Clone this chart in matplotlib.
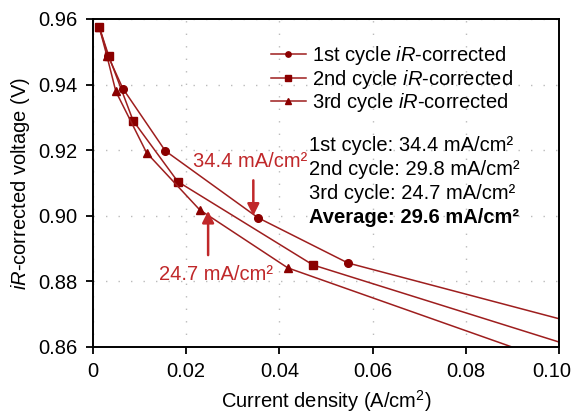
import matplotlib
matplotlib.use("Agg")
import matplotlib.pyplot as plt
import matplotlib.transforms as mtransforms

plt.rcParams['font.family'] = ['Liberation Sans', 'DejaVu Sans']
plt.rcParams['mathtext.fontset'] = 'custom'
plt.rcParams['mathtext.rm'] = 'Liberation Sans'
plt.rcParams['mathtext.it'] = 'Liberation Sans:italic'
plt.rcParams['mathtext.bf'] = 'Liberation Sans:bold'

# data (current density A/cm2, iR-corrected voltage V)
x1 = [0.0013, 0.0032, 0.0064, 0.0155, 0.0354, 0.0547, 0.1200]
y1 = [0.9577, 0.9488, 0.9388, 0.9198, 0.8994, 0.8856, 0.8611]
x2 = [0.0013, 0.0034, 0.0086, 0.0182, 0.0472, 0.1200]
y2 = [0.9577, 0.9486, 0.9290, 0.9104, 0.8850, 0.8526]
x3 = [0.0013, 0.0030, 0.0049, 0.0115, 0.0229, 0.0418, 0.1200]
y3 = [0.9577, 0.9486, 0.9379, 0.9192, 0.9018, 0.8841, 0.8449]
labels = [r'1st cycle $\it{iR}$-corrected', r'2nd cycle $\it{iR}$-corrected',
          r'3rd cycle $\it{iR}$-corrected']
summary = ['1st cycle: 34.4 mA/cm²', '2nd cycle: 29.8 mA/cm²',
           '3rd cycle: 24.7 mA/cm²']
average = 'Average: 29.6 mA/cm²'
xticks = [0, 0.02, 0.04, 0.06, 0.08, 0.10]
xticklabels = ['0', '0.02', '0.04', '0.06', '0.08', '0.10']
yticks = [0.86, 0.88, 0.90, 0.92, 0.94, 0.96]

line_c = '#9E1E1E'
mark_c = '#8B0000'
red = '#C0282A'
fs = 14.5

fig = plt.figure(figsize=(5.76, 4.17), dpi=100)
ax = fig.add_axes([0.1615, 0.168, 0.809, 0.7865])

for xs, ys, m, lab in [(x2, y2, 's', labels[1]), (x3, y3, '^', labels[2]), (x1, y1, 'o', labels[0])]:
    ax.plot(xs, ys, color=line_c, lw=1.1, marker=m, ms=5.5, mfc=mark_c, mec=mark_c, label=lab)

ax.set_xlim(0, 0.10)
ax.set_ylim(0.86, 0.96)
ax.set_xticks(xticks)
ax.set_xticklabels(xticklabels)
ax.set_yticks(yticks)
ax.tick_params(direction='out', length=5, width=1.3, labelsize=fs, pad=6, top=False, right=False)
for s in ax.spines.values():
    s.set_linewidth(1.4)
ax.grid(True, color='#BBBBBB', lw=1.0, linestyle=(0, (1, 8)))
ax.set_axisbelow(True)

# nudge the last x tick label left so it stays inside the figure
lastlab = ax.get_xticklabels()[-1]
lastlab.set_transform(lastlab.get_transform() +
                      mtransforms.ScaledTranslation(-7 / 100, 0, fig.dpi_scale_trans))

ax.set_xlabel('Current density (A/cm$^2$)', fontsize=fs, labelpad=5)
ax.set_ylabel(r'$\it{iR}$-corrected voltage (V)', fontsize=fs, labelpad=5)

handles, labs = ax.get_legend_handles_labels()
order = [2, 0, 1]
leg = ax.legend([handles[i] for i in order], [labs[i] for i in order],
                loc='upper left', bbox_to_anchor=(0.36, 0.955), frameon=False, fontsize=fs,
                handlelength=1.75, handletextpad=0.3, labelspacing=0.04, borderpad=0, markerscale=0.7)

tx = 0.4635
y0 = 0.614
dy = 0.0727
for i, s in enumerate(summary):
    ax.text(tx, y0 - i * dy, s, transform=ax.transAxes, fontsize=fs, va='center', ha='left')
ax.text(tx, y0 - 3 * dy, average, transform=ax.transAxes, fontsize=fs, va='center', ha='left',
        fontweight='bold')

ax.text(0.0215, 0.9165, '34.4 mA/cm²', color=red, fontsize=fs, ha='left', va='center')
ax.text(0.0142, 0.8820, '24.7 mA/cm²', color=red, fontsize=fs, ha='left', va='center')
ax.annotate('', xy=(0.0344, 0.9000), xytext=(0.0344, 0.9108),
            arrowprops=dict(arrowstyle='-|>,head_length=0.5,head_width=0.25', color=red, lw=1.8,
                            mutation_scale=14, shrinkA=0, shrinkB=0))
ax.annotate('', xy=(0.0247, 0.9015), xytext=(0.0247, 0.8880),
            arrowprops=dict(arrowstyle='-|>,head_length=0.5,head_width=0.25', color=red, lw=1.8,
                            mutation_scale=14, shrinkA=0, shrinkB=0))

fig.savefig('out.png', dpi=100)
